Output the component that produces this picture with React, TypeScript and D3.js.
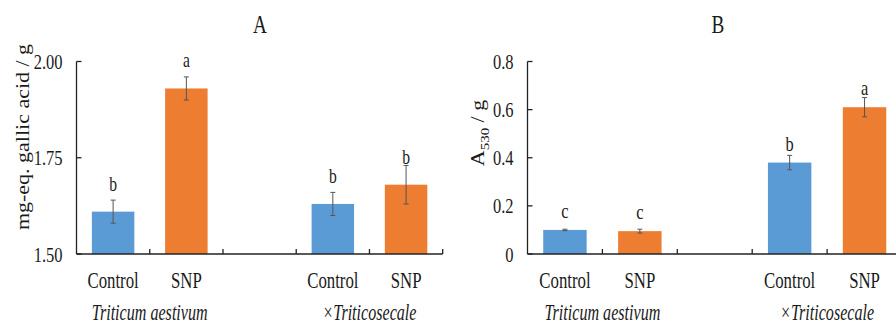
import React from "react";
import * as d3 from "d3";

const slotKeys = ["TA-Control", "TA-SNP", "gap", "TS-Control", "TS-SNP"];
const barSlots = ["TA-Control", "TA-SNP", "TS-Control", "TS-SNP"];
const treatments = ["Control", "SNP", "Control", "SNP"];
const speciesNames = ["Triticum aestivum", "×Triticosecale"];
const speciesSlots = [["TA-Control", "TA-SNP"], ["TS-Control", "TS-SNP"]];

const phenolValues = [1.61, 1.93, 1.63, 1.68];
const phenolErrors = [0.03, 0.03, 0.03, 0.05];
const phenolLetters = ["b", "a", "b", "b"];
const phenolTicks = [1.5, 1.75, 2.0];

const anthoValues = [0.1, 0.095, 0.38, 0.61];
const anthoErrors = [0.003, 0.008, 0.03, 0.04];
const anthoLetters = ["c", "c", "b", "a"];
const anthoTicks = [0, 0.2, 0.4, 0.6, 0.8];

const barColors = ["#5B9BD5", "#ED7D31", "#5B9BD5", "#ED7D31"];
const FONT = "Liberation Serif";
const TXT = "#1a1a1a";

function T({ x, y, size, children, anchor = "middle", italic = false, sx = 0.75 }: any) {
  return (
    <text
      transform={`translate(${x},${y}) scale(${sx},1)`}
      textAnchor={anchor}
      style={{ fontFamily: FONT, fontSize: size, fontStyle: italic ? "italic" : "normal" }}
      fill={TXT}
    >
      {children}
    </text>
  );
}

function Panel({ x0, x1, domain, ticks, fmt, values, errors, letters, title, titleX, letterGap, letterSize, yTitle }: any) {
  const yTop = 61.5;
  const yBot = 254;
  const x = d3.scaleBand<string>().domain(slotKeys).range([x0, x1]).paddingInner(0.42).paddingOuter(0.21);
  const y = d3.scaleLinear().domain(domain).range([yBot, yTop]);
  const step = x.step();
  const bounds = d3.range(slotKeys.length + 1).map((i) => x0 + i * step);
  return (
    <g>
      <T x={titleX} y={32.5} size={26} sx={0.74}>{title}</T>
      <line x1={x0} x2={x0} y1={yTop} y2={yBot} stroke="#222" strokeWidth={1.3} />
      {ticks.map((t: number) => (
        <g key={t}>
          <line x1={x0} x2={x0 + 5} y1={y(t)} y2={y(t)} stroke="#222" strokeWidth={1.3} />
          <T x={x0 - 14} y={y(t) + 7.5} size={22} anchor="end" sx={0.75}>{fmt(t)}</T>
        </g>
      ))}
      {yTitle}
      {values.map((v: number, i: number) => {
        const bx = x(barSlots[i])!;
        const cx = bx + x.bandwidth() / 2;
        return (
          <g key={i}>
            <rect x={bx} y={y(v)} width={x.bandwidth()} height={yBot - y(v)} fill={barColors[i]} />
            <line x1={cx} x2={cx} y1={y(v + errors[i])} y2={y(v - errors[i])} stroke="#555" strokeWidth={1} />
            <line x1={cx - 2.5} x2={cx + 2.5} y1={y(v + errors[i])} y2={y(v + errors[i])} stroke="#555" strokeWidth={1} />
            <line x1={cx - 2.5} x2={cx + 2.5} y1={y(v - errors[i])} y2={y(v - errors[i])} stroke="#555" strokeWidth={1} />
            <T x={cx} y={y(v) - letterGap} size={letterSize} sx={0.78}>{letters[i]}</T>
            <T x={cx} y={288} size={23} sx={0.73}>{treatments[i]}</T>
          </g>
        );
      })}
      <line x1={x0} x2={x1} y1={yBot} y2={yBot} stroke="#222" strokeWidth={1.5} />
      {bounds.slice(1).map((b, i) => (
        <line key={i} x1={b} x2={b} y1={yBot} y2={yBot - 5} stroke="#222" strokeWidth={1.3} />
      ))}
      {speciesNames.map((s, i) => {
        const a = x(speciesSlots[i][0])!;
        const b = x(speciesSlots[i][1])! + x.bandwidth();
        return (
          <T key={s} x={(a + b) / 2} y={320} size={23} italic sx={0.7}>{s}</T>
        );
      })}
    </g>
  );
}

export default function App() {
  const fmtA = d3.format(".2f");
  const fmtB = (d: number) => (d === 0 ? "0" : d3.format(".1f")(d));
  return (
    <svg width={896} height={326} style={{ position: "absolute", left: 0, top: 0, background: "#fff" }}>
      <rect width={896} height={326} fill="#fff" />
      <Panel
        x0={76.5} x1={442.7} domain={[1.5, 2.0]} ticks={phenolTicks} fmt={fmtA}
        values={phenolValues} errors={phenolErrors} letters={phenolLetters}
        title="A" titleX={260} letterGap={21} letterSize={20}
        yTitle={
          <text transform="translate(29,137) rotate(-90) scale(1,0.9)" textAnchor="middle" style={{ fontFamily: FONT, fontSize: 22 }} fill={TXT}>
            mg-eq. gallic acid / g
          </text>
        }
      />
      <Panel
        x0={527.5} x1={902} domain={[0, 0.8]} ticks={anthoTicks} fmt={fmtB}
        values={anthoValues} errors={anthoErrors} letters={anthoLetters}
        title="B" titleX={718} letterGap={12} letterSize={21}
        yTitle={
          <text transform="translate(484,133) rotate(-90) scale(1,0.9)" textAnchor="middle" style={{ fontFamily: FONT, fontSize: 22 }} fill={TXT}>
            A<tspan style={{ fontSize: 15 }} dy={5}>530</tspan><tspan dy={-5}> / g</tspan>
          </text>
        }
      />
    </svg>
  );
}
